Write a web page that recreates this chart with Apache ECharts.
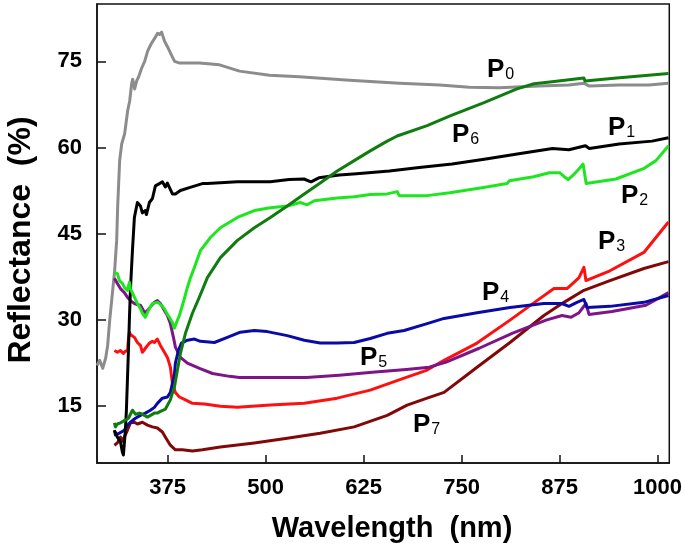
<!DOCTYPE html>
<html>
<head>
<meta charset="utf-8">
<script src="https://cdn.jsdelivr.net/npm/echarts@6/dist/echarts.min.js"></script>
<style>
html,body{margin:0;padding:0;background:#fff;}
#chart{width:685px;height:550px;}
</style>
</head>
<body>
<div id="chart"></div>
<script>
// ---- data (wavelength nm, reflectance %) ----
const xTicks = [375, 500, 625, 750, 875, 1000];
const yTicks = [15, 30, 45, 60, 75];

const wlP0 = [285,288.4,292.3,296.1,298.6,301.2,303.7,307.5,310.1,311.4,313.9,316.5,320.3,324.1,326.7,329.2,330.5,333.0,335.6,338.1,341.9,345.8,349.6,352.1,354.7,358.5,362.3,364.9,367.4,371.2,375.1,377.6,381.4,384.0,390.4,415.8,441.3,466.8,505,543,607,671,722,760,798,849,887,906,913,951,989,1014];
const rP0  = [22.0,22.9,21.5,23.3,25.5,29.9,33.3,38.5,43.8,49.8,57.7,60.6,62.4,66.4,68.1,71.1,71.9,70.2,71.6,72.3,73.8,75.0,76.8,77.5,78.2,79.0,79.9,79.7,80.1,78.5,77.5,76.8,75.7,75.0,74.7,74.7,74.4,73.3,72.6,72.3,71.7,71.2,70.9,70.5,70.4,70.7,70.9,71.2,70.7,70.9,70.9,71.2];

const wlP1 = [307.2,311.0,314.9,317.4,318.7,321.2,322.5,323.8,325.1,326.3,327.6,330.2,332.7,336.5,340.4,342.9,346.7,348.0,351.8,355.7,359.5,362.0,364.6,368.4,372.2,374.8,377.3,381.2,385.0,391.4,402.8,419.4,425.8,464,506,530,549,558,568,594,616,658,696,738,781,823,866,887,908,913,951,993,1014];
const rP1  = [10.7,9.5,8.7,6.9,6.4,10.7,14.2,19.4,24.6,29.9,35.1,42.0,47.8,50.4,49.8,48.6,49.0,48.3,50.4,51.1,53.3,53.1,53.7,54.0,53.1,53.8,53.5,51.9,51.9,52.5,53.0,53.7,53.7,54.0,54.0,54.4,54.5,54.0,54.7,55.2,55.4,55.9,56.5,57.1,58.0,58.9,59.8,59.6,60.3,59.8,60.6,61.1,61.7];

const wlP2 = [307.2,311.0,313.6,317.4,319.9,323.8,326.3,327.6,332.7,336.5,340.4,342.9,346.7,349.3,351.8,355.7,358.2,362.0,364.6,368.4,370.9,374.8,377.3,381.2,383.7,387.6,390.1,394.0,396.5,400.3,404.2,409.3,416.9,429.7,442.4,464.1,485.7,506.1,527.7,544.3,553.2,562.2,591.4,613.1,633.5,655.2,667.9,670.5,706,735,778,808,811,842,862,875,881,886,894,900,905,909,947,982,998,1014];
const rP2  = [38.2,38.0,36.8,36.3,35.6,35.1,36.5,35.4,33.9,32.8,31.9,31.1,30.4,31.2,31.9,32.8,33.0,33.0,32.8,32.3,31.9,30.9,30.4,29.5,28.5,29.9,30.7,32.5,33.7,35.6,37.3,39.1,42.0,44.3,46.0,47.8,49.0,49.5,49.8,50.4,50.0,50.7,51.2,51.4,51.8,51.9,52.3,51.6,51.6,52.1,53.0,53.7,54.2,54.9,55.6,55.6,54.9,54.4,55.4,56.3,57.1,53.7,54.5,56.3,57.7,60.3];

const wlP3 = [307.2,311.0,314.9,318.7,321.2,323.8,325.0,326.3,327.6,332.7,336.5,340.4,342.9,346.7,351.8,355.6,358.2,362.0,365.9,371.0,374.8,378.6,381.2,385.0,390.1,397.8,406.7,422.0,442.4,464.1,506.1,549.4,591.4,633.5,676.8,706.1,727.7,769.8,811.8,846.2,867.9,884.5,893.4,899.8,906.1,908.7,939.3,982.6,1008,1014];
const rP3  = [24.6,24.3,24.6,24.1,24.5,24.5,26.4,27.8,27.4,26.9,26.0,25.5,24.3,25.0,25.9,26.2,26.0,26.6,25.5,24.3,23.4,21.7,18.9,17.3,16.5,16.0,15.4,15.3,14.9,14.7,15.1,15.4,16.3,17.7,19.8,21.2,22.9,25.9,29.9,33.3,35.4,35.4,36.5,37.3,39.1,36.8,38.5,41.7,46.0,47.0];

const wlP4 = [307.2,308.5,313.6,319.9,323.8,327.6,334.0,340.4,346.7,353.1,358.2,362.0,368.4,374.8,378.6,381.2,383.7,385.0,388.8,392.7,400.3,409.3,416.9,434.7,451.3,467.8,485.7,502.2,527.7,549.4,569.7,591.4,613.1,633.5,655.2,676.8,706.1,727.7,769.8,811.8,855.1,878.1,887,897.2,906.1,910,939.3,982.6,1014];
const rP4  = [10.7,9.9,10.2,10.7,11.6,12.1,12.8,13.3,13.7,14.2,14.7,15.4,16.3,16.5,17.3,18.9,20.3,22.4,24.6,25.9,26.4,26.6,26.2,26.0,26.9,27.8,28.1,27.9,27.2,26.4,25.9,25.9,26.0,26.7,27.6,28.1,29.3,30.2,31.2,32.1,32.8,32.8,32.3,33.0,33.5,32.1,32.3,33.0,34.2];

const wlP5 = [307.2,311.0,314.9,319.9,323.8,327.6,332.7,336.5,340.4,344.2,346.7,349.3,351.8,355.6,358.2,362.0,365.9,371.0,374.8,378.6,382.5,385.0,391.4,400.3,415.8,432.4,454.0,466.8,508.8,552.1,594.1,636.2,679.5,708.8,730.4,772.5,814.5,857.8,878.2,889.7,899.9,908.8,912.6,941.9,985.2,1014];
const rP5  = [37.2,36.3,35.4,34.7,33.9,33.3,32.8,32.6,32.5,31.6,31.2,31.6,31.9,32.6,33.0,33.3,32.8,31.6,30.7,29.3,26.9,25.2,23.4,22.4,21.5,20.6,20.1,19.9,19.9,19.9,20.3,20.8,21.3,21.7,22.6,25.0,27.6,29.9,30.7,30.4,31.2,32.8,30.9,31.4,32.5,34.7];

const wlP6 = [307.2,308.5,311.0,314.9,318.7,321.2,325.1,327.6,330.2,334.0,339.1,342.9,345.5,349.3,353.2,358.2,362.0,365.9,368.4,372.3,374.8,378.6,381.2,383.7,387.6,391.4,397.8,406.7,415.6,425.8,442.4,464.1,485.7,506.1,527.7,549.4,569.7,591.4,613.1,633.5,655.2,667.9,706.1,735.4,778.7,820.7,842.4,862.7,906.1,907.4,948,1014];
const rP6  = [12.0,11.3,11.8,12.0,12.3,12.5,12.8,12.8,14.2,13.5,13.7,13.5,13.3,13.0,13.3,13.7,13.7,14.0,14.2,14.4,14.7,16.0,17.2,18.2,21.2,24.1,27.6,31.1,33.9,37.3,40.8,43.8,46.0,47.8,49.8,51.9,53.8,55.9,57.7,59.4,61.1,62.0,63.8,65.5,67.8,70.2,71.1,71.4,72.1,71.6,72.1,72.9];

const wlP7 = [307.2,311.0,314.9,317.4,319.9,323.8,327.6,332.7,336.5,342.9,349.3,355.6,362.0,368.4,372.3,378.6,385.0,393.9,406.7,419.5,442.4,485.7,527.7,569.7,613.1,655.2,680.6,706.1,727.7,769.8,811.8,855.1,880.6,906.1,939.3,982.6,1014];
const rP7  = [8.1,8.5,9.5,8.8,9.0,10.7,12.0,12.1,11.8,12.1,11.6,11.3,11.1,10.4,9.5,8.1,7.3,7.3,7.1,7.3,7.8,8.5,9.3,10.2,11.3,13.3,15.1,16.3,17.3,21.7,26.0,30.7,33.0,35.1,36.8,38.9,40.1];

const names = ['P0','P1','P2','P3','P4','P5','P6','P7'];
const colors = ['#8c8c8c','#000000','#1ee61e','#ff1010','#0a0aa8','#7d1488','#107c10','#820808'];
const wls = [wlP0,wlP1,wlP2,wlP3,wlP4,wlP5,wlP6,wlP7];
const rs  = [rP0,rP1,rP2,rP3,rP4,rP5,rP6,rP7];

const zip = (a, b) => a.map((v, i) => [v, b[i]]);
const FONT = "'Liberation Sans', Arial, sans-serif";

// plot order (drawn first = behind)
const order = [0,7,3,5,4,1,2,6];
const series = order.map(i => ({
  name: names[i],
  type: 'line',
  data: zip(wls[i], rs[i]),
  showSymbol: false,
  symbol: 'none',
  lineStyle: { color: colors[i], width: 3, join: 'round' },
  itemStyle: { color: colors[i] },
  z: 2,
  silent: true,
  animation: false
}));

// label annotations: [subscript, left px, cap-center px]
const labelPos = [
  ['0', 487, 70], ['6', 452, 135], ['1', 608, 128], ['2', 621, 196],
  ['3', 598, 242], ['4', 482, 293], ['5', 360, 358], ['7', 413, 425]
];

const graphics = labelPos.map(([n, x, y]) => ({
  type: 'text',
  x: x, y: y,
  z: 10,
  style: {
    text: '{p|P}{s|' + n + '}',
    textAlign: 'left',
    textVerticalAlign: 'middle',
    rich: {
      p: { fontSize: 26, fontWeight: 'bold', fontFamily: FONT, fill: '#000', verticalAlign: 'bottom', lineHeight: 26 },
      s: { fontSize: 16, fontFamily: FONT, fill: '#000', verticalAlign: 'bottom', lineHeight: 16, padding: [0, 0, 0, 1] }
    }
  }
}));

graphics.push({
  type: 'text', x: 392, y: 529, z: 10,
  style: { text: 'Wavelength  (nm)', fontSize: 29, fontWeight: 'bold', fontFamily: FONT, fill: '#000', textAlign: 'center', textVerticalAlign: 'middle' }
});
graphics.push({
  type: 'text', x: 21, y: 240, rotation: Math.PI / 2, z: 10,
  style: { text: 'Reflectance  (%)', fontSize: 32, fontWeight: 'bold', fontFamily: FONT, fill: '#000', textAlign: 'center', textVerticalAlign: 'middle' }
});

const chart = echarts.init(document.getElementById('chart'), null, { renderer: 'canvas' });
chart.setOption({
  animation: false,
  backgroundColor: '#fff',
  grid: { left: 97, right: 15, top: 4, bottom: 87, show: true, borderColor: '#111', borderWidth: 1.5, backgroundColor: 'transparent' },
  xAxis: {
    type: 'value', min: 285, max: 1015,
    axisLine: { show: true, lineStyle: { color: '#111', width: 1.5 } },
    axisTick: { show: true, inside: true, length: 8, customValues: xTicks, lineStyle: { color: '#111', width: 1.5 } },
    axisLabel: { customValues: xTicks, formatter: v => String(v), fontSize: 22, fontWeight: 'bold', fontFamily: FONT, color: '#000', margin: 14 },
    splitLine: { show: false }
  },
  yAxis: {
    type: 'value', min: 5, max: 85,
    axisLine: { show: true, lineStyle: { color: '#111', width: 1.5 } },
    axisTick: { show: true, inside: true, length: 9, customValues: yTicks, lineStyle: { color: '#111', width: 1.5 } },
    axisLabel: { customValues: yTicks, formatter: v => String(v), fontSize: 22, fontWeight: 'bold', fontFamily: FONT, color: '#000', margin: 15 },
    splitLine: { show: false }
  },
  series: series,
  graphic: graphics
});
</script>
</body>
</html>
